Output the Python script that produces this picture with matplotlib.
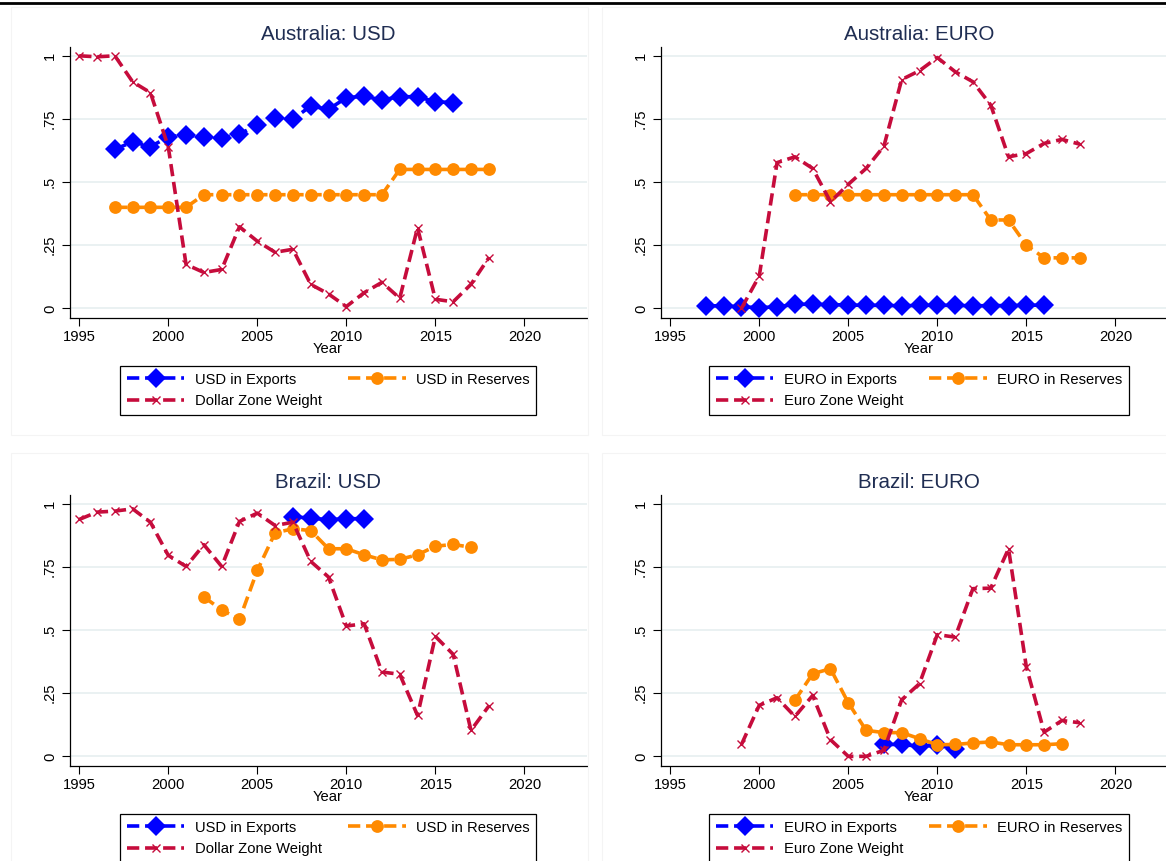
import matplotlib
matplotlib.use("Agg")
import matplotlib.pyplot as plt
from matplotlib.lines import Line2D
from matplotlib.patches import Rectangle

plt.rcParams["font.family"] = ["Liberation Sans", "DejaVu Sans"]

# ---------------- data ----------------
years_exp_au = list(range(1997, 2017))
years_res_au = list(range(1997, 2019))
years_zone_au_usd = list(range(1995, 2019))
years_res_au_eur = list(range(2002, 2019))
years_zone_eur = list(range(1999, 2019))

years_exp_br = list(range(2007, 2012))
years_res_br = list(range(2002, 2018))
years_zone_br_usd = list(range(1995, 2019))

au_usd_exports = [0.629, 0.660, 0.640, 0.679, 0.687, 0.678, 0.673, 0.690, 0.726, 0.755,
                  0.749, 0.801, 0.788, 0.834, 0.840, 0.825, 0.838, 0.838, 0.818, 0.815]
au_usd_reserves = [0.40, 0.40, 0.40, 0.40, 0.40, 0.45, 0.45, 0.45, 0.45, 0.45, 0.45,
                   0.45, 0.45, 0.45, 0.45, 0.45, 0.55, 0.55, 0.55, 0.55, 0.55, 0.55]
au_dollar_zone = [1.000, 0.996, 1.000, 0.897, 0.854, 0.640, 0.174, 0.142, 0.154, 0.323,
                  0.266, 0.222, 0.234, 0.095, 0.057, 0.007, 0.062, 0.103, 0.040, 0.319,
                  0.036, 0.026, 0.095, 0.200]

au_eur_exports = [0.010, 0.010, 0.006, 0.003, 0.006, 0.016, 0.016, 0.015, 0.013, 0.012,
                  0.012, 0.010, 0.012, 0.012, 0.012, 0.010, 0.011, 0.011, 0.012, 0.013]
au_eur_reserves = [0.45, 0.45, 0.45, 0.45, 0.45, 0.45, 0.45, 0.45, 0.45, 0.45, 0.45,
                   0.35, 0.35, 0.25, 0.20, 0.20, 0.20]
au_euro_zone = [0.000, 0.128, 0.577, 0.600, 0.554, 0.422, 0.491, 0.554, 0.642, 0.906,
                0.941, 0.993, 0.937, 0.897, 0.805, 0.600, 0.613, 0.653, 0.669, 0.650]

br_usd_exports = [0.949, 0.943, 0.937, 0.941, 0.941]
br_usd_reserves = [0.631, 0.580, 0.542, 0.736, 0.885, 0.901, 0.894, 0.822, 0.822, 0.798,
                   0.778, 0.780, 0.798, 0.832, 0.839, 0.828]
br_dollar_zone = [0.938, 0.967, 0.971, 0.980, 0.927, 0.796, 0.752, 0.838, 0.752, 0.930,
                  0.963, 0.914, 0.927, 0.772, 0.710, 0.516, 0.525, 0.334, 0.325, 0.162,
                  0.475, 0.404, 0.103, 0.199]

br_eur_exports = [0.047, 0.047, 0.040, 0.044, 0.030]
br_eur_reserves = [0.222, 0.327, 0.347, 0.212, 0.103, 0.094, 0.094, 0.070, 0.046, 0.047,
                   0.053, 0.057, 0.046, 0.046, 0.046, 0.050]
br_euro_zone = [0.047, 0.202, 0.232, 0.158, 0.241, 0.066, 0.000, 0.000, 0.024, 0.224,
                0.288, 0.482, 0.472, 0.664, 0.666, 0.822, 0.354, 0.096, 0.142, 0.133]

x_ticks = [1995, 2000, 2005, 2010, 2015, 2020]
y_ticks = [0, 0.25, 0.5, 0.75, 1]
y_tick_labels = ["0", ".25", ".5", ".75", "1"]

# ---------------- style ----------------
BLUE = "#0000ff"
ORANGE = "#ff8a00"
RED = "#c60c3c"
TITLE_C = "#1f2d52"
GRID_C = "#e4edef"
DASH = (3.4, 1.6)
LW = 2.6
FS = 10.6

W, H = 1166, 861
fig = plt.figure(figsize=(W / 100, H / 100), dpi=100)
fig.patch.set_facecolor("white")


def fig_rect(left, top, right, bottom):
    return [left / W, 1 - bottom / H, (right - left) / W, (bottom - top) / H]


# faint outlines of each sub-graph region
for (l, t, r, b) in [(10.5, 7, 588, 435.5), (601.5, 7, 1190, 435.5),
                     (10.5, 453, 588, 880), (601.5, 453, 1190, 880)]:
    fig.patches.append(Rectangle((l / W, 1 - b / H), (r - l) / W, (b - t) / H,
                                 transform=fig.transFigure, fill=False,
                                 edgecolor="#f4f4f4", linewidth=0.8, zorder=0))

# rule across the top
fig.add_artist(Line2D([0, 1], [1 - 3.3 / H, 1 - 3.3 / H], transform=fig.transFigure,
                      color="black", linewidth=2.0))

panels = [
    dict(rect=(69.6, 46.7, 586.7, 317.7), title="Australia: USD", cur="USD", zone="Dollar Zone Weight",
         exp=(years_exp_au, au_usd_exports), res=(years_res_au, au_usd_reserves),
         zw=(years_zone_au_usd, au_dollar_zone), leg_top=366),
    dict(rect=(660.6, 46.7, 1177.7, 317.7), title="Australia: EURO", cur="EURO", zone="Euro Zone Weight",
         exp=(years_exp_au, au_eur_exports), res=(years_res_au_eur, au_eur_reserves),
         zw=(years_zone_eur, au_euro_zone), leg_top=366),
    dict(rect=(69.6, 494.7, 586.7, 765.7), title="Brazil: USD", cur="USD", zone="Dollar Zone Weight",
         exp=(years_exp_br, br_usd_exports), res=(years_res_br, br_usd_reserves),
         zw=(years_zone_br_usd, br_dollar_zone), leg_top=814),
    dict(rect=(660.6, 494.7, 1177.7, 765.7), title="Brazil: EURO", cur="EURO", zone="Euro Zone Weight",
         exp=(years_exp_br, br_eur_exports), res=(years_res_br, br_eur_reserves),
         zw=(years_zone_eur, br_euro_zone), leg_top=814),
]

for p in panels:
    l, t, r, b = p["rect"]
    ax = fig.add_axes(fig_rect(l, t, r, b))
    ax.set_xlim(1994.46, 2023.5)
    ax.set_ylim(-0.037, 1.036)

    for yv in y_ticks:
        ax.axhline(yv, color=GRID_C, linewidth=1.1, zorder=0)

    h_exp, = ax.plot(*p["exp"], color=BLUE, linewidth=LW, dashes=DASH, marker="D",
                     markersize=10.5, markeredgewidth=0, zorder=3,
                     label=f"{p['cur']} in Exports")
    h_res, = ax.plot(*p["res"], color=ORANGE, linewidth=LW, dashes=DASH, marker="o",
                     markersize=9.2, markeredgewidth=0, zorder=4,
                     label=f"{p['cur']} in Reserves")
    h_zw, = ax.plot(*p["zw"], color=RED, linewidth=LW, dashes=DASH, marker="x",
                    markersize=6, markeredgewidth=1.0, zorder=5, label=p["zone"])

    ax.set_xticks(x_ticks)
    ax.set_yticks(y_ticks)
    ax.set_yticklabels(y_tick_labels, rotation=90, va="center")
    ax.tick_params(axis="both", labelsize=FS, length=5.5, width=0.8, color="black",
                   direction="out")
    ax.tick_params(axis="x", pad=3)
    ax.tick_params(axis="y", pad=3.5)
    for s in ("top", "right"):
        ax.spines[s].set_visible(False)
    for s in ("left", "bottom"):
        ax.spines[s].set_linewidth(0.9)
        ax.spines[s].set_color("black")

    ax.set_xlabel("Year", fontsize=FS, labelpad=-1)
    ax.set_title(p["title"], fontsize=14.8, color=TITLE_C, pad=5)

    cx = (l + r) / 2
    leg = ax.legend(handles=[h_exp, h_zw, h_res], ncol=2, loc="upper center",
                    bbox_to_anchor=(cx / W, 1 - p["leg_top"] / H),
                    bbox_transform=fig.transFigure, fontsize=FS, frameon=True,
                    fancybox=False, edgecolor="black", framealpha=1,
                    borderpad=0.45, labelspacing=0.5, handlelength=3.9,
                    handletextpad=0.7, columnspacing=1.8, numpoints=1,
                    borderaxespad=0)
    leg.get_frame().set_linewidth(0.9)

fig.savefig("out.png", dpi=100, facecolor="white")
